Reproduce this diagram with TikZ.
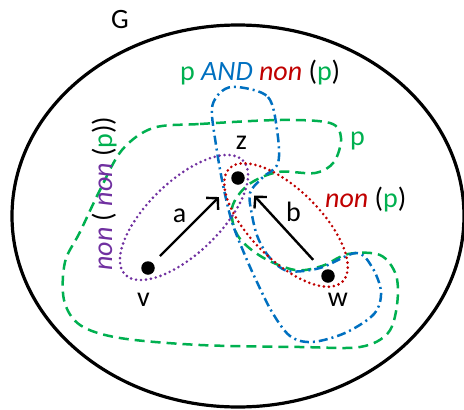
\documentclass[tikz,border=0pt]{standalone}
\usepackage{fontspec}
\setmainfont{Carlito}
\usetikzlibrary{arrows.meta}
\definecolor{pgreen}{RGB}{0,176,80}
\definecolor{pblue}{RGB}{0,112,192}
\definecolor{pred}{RGB}{192,0,0}
\definecolor{ppurple}{RGB}{112,48,160}
\tikzset{
  graphline/.style={line width=3.2pt, black},
  pset/.style={pgreen, line width=2.5pt, dash pattern=on 10pt off 6pt},
  andset/.style={pblue, line width=2.5pt, dash pattern=on 9pt off 4pt on 2pt off 4pt},
  nnset/.style={ppurple, line width=2.9pt, line cap=round, dash pattern=on 0pt off 5pt},
  nonset/.style={pred, line width=2.9pt, line cap=round, dash pattern=on 0pt off 5pt},
  vertex/.style={circle, fill=black, inner sep=0pt, minimum size=13.5pt},
  edgearrow/.style={line width=2.4pt, -{Straight Barb[length=8pt,width=17pt,line width=2.4pt]}},
  lbl/.style={inner sep=0pt, font=\fontsize{28}{32}\selectfont}
}
\begin{document}
\begin{tikzpicture}[x=1pt,y=-1pt]
\useasboundingbox (0,0) rectangle (464,410);
% graph G
\draw[graphline] (238,216) ellipse [x radius=226, y radius=191];
% set p (green dashed)
\draw[pset] plot[smooth cycle, tension=0.55] coordinates {
 (153,128) (200,124) (280,120) (330,123) (341,138) (334,162) (315,173)
 (278,172) (248,185) (232,208) (238,236) (262,257) (295,270) (322,266)
 (348,254) (380,255) (396,275) (397,305) (388,333) (360,347) (300,347)
 (200,345) (120,338) (80,325) (64,300) (65,262) (80,232) (100,190) (122,150)};
% set p AND non(p) (blue dash-dot)
\draw[andset] plot[smooth cycle, tension=0.55] coordinates {
 (238,87) (268,97) (277,130) (278,163) (262,178) (250,193) (252,215)
 (258,238) (270,258) (288,271) (320,268) (356,253) (372,267) (381,292)
 (374,314) (345,333) (312,342) (290,336) (272,312) (256,280) (244,253)
 (232,222) (223,185) (216,145) (212,108) (222,91)};
% non(non(p)) purple
\draw[nnset, rotate around={44:(184,217.5)}] (184,217.5) ellipse [x radius=82, y radius=36];
% non(p) red
\draw[nonset, rotate around={-45:(286,225)}] (286,225) ellipse [x radius=80, y radius=35];
% vertices
\node[vertex] (z) at (238,178) {};
\node[vertex] (v) at (148,268) {};
\node[vertex] (w) at (328,276) {};
% edges
\draw[edgearrow, shorten <=10pt, shorten >=20pt] (v) -- (z);
\draw[edgearrow, shorten <=15pt, shorten >=17pt] (w) -- (z);
% labels
\node[lbl] (lG) at (120,19.5) {G};
\node[lbl] (lz) at (241.5,142.5) {z};
\node[lbl] (lv) at (143.5,299.5) {v};
\node[lbl] (lw) at (338,300) {w};
\node[lbl] (la) at (179.5,215.5) {a};
\node[lbl] (lb) at (293.5,211.5) {b};
\node[lbl, anchor=base west] (lAnd) at (180,80)
  {\textcolor{pgreen}{p} \textcolor{pblue}{\textit{AND}} \textcolor{pred}{\textit{non}} (\textcolor{pgreen}{p})};
\node[lbl, anchor=base west] (lp) at (350,145) {\textcolor{pgreen}{p}};
\node[lbl, anchor=base west] (lnon) at (325,207) {\textcolor{pred}{\textit{non}} (\textcolor{pgreen}{p})};
\node[lbl, anchor=base, rotate=90] (lnn) at (112,193.5)
  {\textcolor{ppurple}{\textit{non}} ( \textcolor{ppurple}{\textit{non}} (\textcolor{pgreen}{p}))};
\end{tikzpicture}
\end{document}
